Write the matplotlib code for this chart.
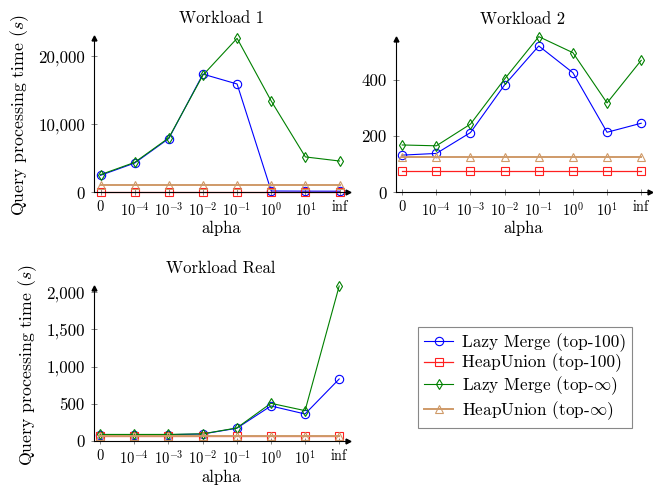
"""plot.py — query processing time vs alpha for three workloads."""

import numpy as np
import matplotlib
matplotlib.use('Agg')
import matplotlib.pyplot as plt

plt.rcParams.update({
    'font.family':              'serif',
    'font.serif':               ['cmr10'],
    'mathtext.fontset':         'cm',
    'axes.formatter.use_mathtext': True,
    'axes.unicode_minus':       False,
    'font.size':                12,
})

# ── Data ─────────────────────────────────────────────────────────────────────
ALPHA_LABELS = ['0', r'$10^{-4}$', r'$10^{-3}$', r'$10^{-2}$',
                r'$10^{-1}$', r'$10^{0}$', r'$10^{1}$', 'inf']

w1_lazy_100 = [2500, 4300, 7900, 17350, 15900, 200, 180, 170]
w1_heap_100 = [50, 50, 50, 50, 50, 50, 50, 50]
w1_lazy_inf = [2600, 4400, 8000, 17200, 22600, 13400, 5200, 4600]
w1_heap_inf = [1070, 1070, 1070, 1070, 1070, 1070, 1070, 1070]

w2_lazy_100 = [132, 138, 212, 381, 519, 424, 213, 245]
w2_heap_100 = [76, 76, 76, 76, 76, 76, 76, 76]
w2_lazy_inf = [168, 165, 242, 402, 552, 495, 317, 468]
w2_heap_inf = [125, 125, 125, 125, 125, 125, 125, 125]

wr_lazy_100 = [85, 85, 85, 94, 171, 471, 363, 834]
wr_heap_100 = [65, 65, 65, 65, 65, 65, 65, 65]
wr_lazy_inf = [88, 88, 88, 96, 175, 507, 408, 2085]
wr_heap_inf = [72, 72, 72, 72, 72, 72, 72, 72]

W1_YTICKS = [0, 10000, 20000]
W1_YLABELS = ['0', '10,000', '20,000']
W2_YTICKS = [0, 200, 400]
W2_YLABELS = ['0', '200', '400']
WR_YTICKS = [0, 500, 1000, 1500, 2000]
WR_YLABELS = ['0', '500', '1,000', '1,500', '2,000']

SERIES_LABELS = ['Lazy Merge (top-100)', 'HeapUnion (top-100)',
                 r'Lazy Merge (top-$\infty$)', r'HeapUnion (top-$\infty$)']

# ── Styles ───────────────────────────────────────────────────────────────────
STYLES = [
    dict(color='#0000ff', marker='o', markersize=6, lw=0.8,
         markerfacecolor='none', markeredgewidth=0.8),
    dict(color='#ff2020', marker='s', markersize=6, lw=0.9,
         markerfacecolor='none', markeredgewidth=0.8),
    dict(color='#008000', marker='d', markersize=5.5, lw=0.8,
         markerfacecolor='none', markeredgewidth=0.8),
    dict(color='#cf9a68', marker='^', markersize=5.5, lw=1.4,
         markerfacecolor='none', markeredgewidth=0.8),
]

X = np.arange(len(ALPHA_LABELS))


def draw(ax, series, title, yticks, ylabels, ytop, ylabel=True):
    for vals, st, lab in zip(series, STYLES, SERIES_LABELS):
        ax.plot(X, vals, label=lab, clip_on=False, zorder=3, **st)
    ax.set_xlim(-0.19, 7.25)
    ax.set_ylim(0, ytop)
    ax.set_xticks(X)
    ax.set_xticklabels(ALPHA_LABELS, fontsize=10.4)
    ax.set_yticks(yticks)
    ax.set_yticklabels(ylabels, fontsize=12.2)
    ax.spines['top'].set_visible(False)
    ax.spines['right'].set_visible(False)
    for s in ('left', 'bottom'):
        ax.spines[s].set_linewidth(0.8)
        ax.spines[s].set_color('black')
        ax.spines[s].set_zorder(4)
    ax.tick_params(direction='inout', length=5, width=0.5, color='#555555')
    ax.tick_params(axis='x', pad=3.5)
    ax.tick_params(axis='y', pad=4)
    # axis arrows
    ax.plot(1, 0, '>k', markersize=3.5, transform=ax.transAxes, clip_on=False)
    ax.plot(0, 1, '^k', markersize=3.5, transform=ax.transAxes, clip_on=False)
    ax.set_title(title, fontsize=12, pad=11)
    ax.set_xlabel('alpha', fontsize=12, labelpad=1.5)
    if ylabel:
        ax.set_ylabel(r'Query processing time ($s$)', fontsize=12.8,
                      labelpad=5)


fig = plt.figure(figsize=(6.53, 4.87), dpi=100)
ax1 = fig.add_axes([0.144, 0.605, 0.389, 0.316])
ax2 = fig.add_axes([0.606, 0.605, 0.389, 0.314])
ax3 = fig.add_axes([0.1435, 0.0945, 0.389, 0.3135])

draw(ax1, [w1_lazy_100, w1_heap_100, w1_lazy_inf, w1_heap_inf],
     'Workload 1', W1_YTICKS, W1_YLABELS, 22580)
draw(ax2, [w2_lazy_100, w2_heap_100, w2_lazy_inf, w2_heap_inf],
     'Workload 2', W2_YTICKS, W2_YLABELS, 542, ylabel=False)
draw(ax3, [wr_lazy_100, wr_heap_100, wr_lazy_inf, wr_heap_inf],
     'Workload Real', WR_YTICKS, WR_YLABELS, 2054)

handles, labels = ax1.get_legend_handles_labels()
leg = fig.legend(handles, labels, loc='upper left',
                 bbox_to_anchor=(0.640, 0.3285), fontsize=12.4,
                 fancybox=False, edgecolor='#888888', framealpha=1,
                 handlelength=1.7, handletextpad=0.5, borderpad=0.35,
                 labelspacing=0.12, borderaxespad=0)
leg.get_frame().set_linewidth(0.8)

fig.savefig('out.png', dpi=100)
